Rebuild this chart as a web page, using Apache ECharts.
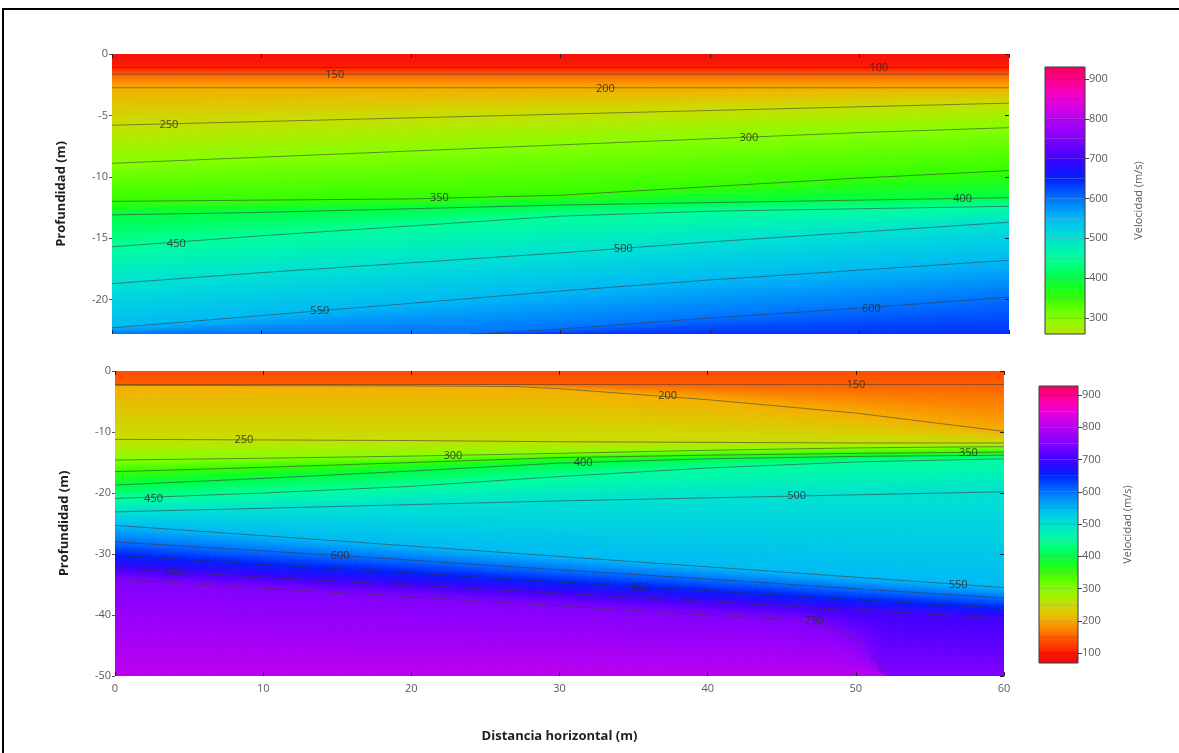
<!DOCTYPE html>
<html>
<head>
<meta charset="utf-8">
<script src="https://cdn.jsdelivr.net/npm/echarts@6/dist/echarts.min.js"></script>
<style>
html,body{margin:0;padding:0;background:#fff;}
#chart{width:1179px;height:753px;}
#frame{position:absolute;left:2px;top:8px;width:1300px;height:900px;border-left:2px solid #000;border-top:2px solid #000;pointer-events:none;}
</style>
</head>
<body>
<div id="chart"></div>
<div id="frame"></div>
<script>
// ---------- axis ticks ----------
const distanceTicks = [0, 10, 20, 30, 40, 50, 60];
const topDepthTicks = [0, -5, -10, -15, -20];
const bottomDepthTicks = [0, -10, -20, -30, -40, -50];
const topColorbarTicks = [300, 400, 500, 600, 700, 800, 900];
const bottomColorbarTicks = [100, 200, 300, 400, 500, 600, 700, 800, 900];
const topColorbarLevels = [260, 300, 350, 400, 450, 500, 550, 600, 650, 700, 750, 800, 850, 900, 930];
const bottomColorbarLevels = [69, 100, 150, 200, 250, 300, 350, 400, 450, 500, 550, 600, 650, 700, 750, 800, 850, 900, 928];

// ---------- colour scale (velocity m/s -> colour) ----------
const colorScale = [
  [60, '#e0001e'], [100, '#ff1a00'], [150, '#ff6000'], [200, '#f6ae00'],
  [250, '#c6e000'], [300, '#86ff00'], [350, '#34ff00'], [400, '#00ff44'],
  [450, '#00ff9c'], [500, '#00e2d2'], [550, '#00baf5'], [600, '#0072ff'],
  [650, '#0020ff'], [700, '#4000ff'], [750, '#8200ff'], [800, '#b600f2'],
  [850, '#ee00d8'], [900, '#ff0088'], [940, '#f00050']
];

// ---------- top section: contour lines [distance m, depth m] ----------
const topLevels = [100, 150, 200, 250, 300, 350, 400, 450, 500, 550, 600];
const top100 = [[0, -1.1], [60, -1.1]];
const top150 = [[0, -1.65], [60, -1.65]];
const top200 = [[0, -2.75], [60, -2.75]];
const top250 = [[0, -5.8], [10, -5.5], [20, -5.2], [30, -4.9], [40, -4.6], [50, -4.3], [60, -4.0]];
const top300 = [[0, -8.9], [10, -8.4], [20, -7.9], [30, -7.4], [40, -6.9], [50, -6.4], [60, -6.0]];
const top350 = [[0, -12.0], [10, -11.9], [20, -11.8], [30, -11.5], [40, -10.8], [50, -10.1], [60, -9.5]];
const top400 = [[0, -13.1], [10, -12.9], [20, -12.6], [30, -12.3], [40, -12.1], [50, -11.9], [60, -11.7]];
const top450 = [[0, -15.7], [10, -14.8], [20, -14.0], [30, -13.2], [40, -12.8], [50, -12.6], [60, -12.4]];
const top500 = [[0, -18.7], [10, -17.8], [20, -17.0], [30, -16.2], [40, -15.3], [50, -14.5], [60, -13.7]];
const top550 = [[0, -22.3], [10, -21.3], [20, -20.3], [30, -19.3], [40, -18.4], [50, -17.6], [60, -16.8]];
const top600 = [[24, -22.8], [30, -22.4], [40, -21.5], [50, -20.7], [60, -19.8]];
const topSurfaceVelocity = 85;
const topBaseVelocity = 640;
const topDepthMin = -22.8;
const topLabels = [
  ['100', 51.3, -1.15], ['150', 14.9, -1.7], ['200', 33, -2.8], ['250', 3.8, -5.75],
  ['300', 42.6, -6.8], ['350', 21.9, -11.75], ['400', 56.9, -11.8], ['450', 4.3, -15.5],
  ['500', 34.2, -15.9], ['550', 13.9, -20.9], ['600', 50.8, -20.75]
];

// ---------- bottom section: contour lines [distance m, depth m] ----------
const bottomLevels = [150, 200, 250, 300, 350, 400, 450, 500, 550, 600, 650, 700, 750];
const bot150 = [[0, -2.2], [60, -2.2]];
const bot200 = [[0, -2.35], [10, -2.4], [20, -2.45], [27, -2.55], [30, -2.9], [40, -4.7], [50, -6.9], [60, -9.9]];
const bot250 = [[0, -11.2], [10, -11.3], [20, -11.4], [30, -11.6], [40, -11.7], [50, -11.8], [60, -11.8]];
const bot300 = [[0, -14.6], [10, -14.3], [20, -13.95], [30, -13.5], [40, -13.0], [50, -12.6], [60, -12.4]];
const bot350 = [[0, -16.5], [10, -15.8], [20, -15.0], [30, -14.2], [40, -13.8], [50, -13.5], [60, -13.3]];
const bot400 = [[0, -18.7], [10, -17.6], [20, -16.4], [30, -15.1], [40, -14.4], [50, -14.0], [60, -13.8]];
const bot450 = [[0, -20.9], [10, -20.0], [20, -18.9], [30, -17.3], [40, -15.9], [50, -14.9], [60, -14.4]];
const bot500 = [[0, -23.1], [10, -22.5], [20, -21.9], [30, -21.3], [40, -20.8], [50, -20.3], [60, -19.8]];
const bot550 = [[0, -25.3], [10, -27.0], [20, -28.7], [30, -30.4], [40, -32.1], [50, -33.8], [60, -35.5]];
const bot600 = [[0, -28.0], [10, -29.5], [20, -31.0], [30, -32.6], [40, -34.1], [50, -35.7], [60, -37.2]];
const bot650 = [[0, -30.2], [10, -31.7], [20, -33.1], [30, -34.6], [40, -36.0], [50, -37.5], [60, -38.9]];
const bot700 = [[0, -32.4], [10, -33.8], [20, -35.1], [30, -36.4], [40, -37.8], [50, -39.2], [60, -40.5]];
const bot750 = [[0, -34.1], [10, -35.6], [20, -37.0], [30, -38.5], [40, -40.0], [46, -40.8], [48.5, -42.3], [50.3, -44.5], [51.3, -47.2], [52, -50]];
const bottomSurfaceVelocity = 135;
const bottomBaseVelocity = 805;
const bottomDepthMin = -50;
const bottomLabels = [
  ['150', 50, -2.2], ['200', 37.3, -4.1], ['250', 8.7, -11.25], ['300', 22.8, -13.9],
  ['350', 57.6, -13.4], ['400', 31.6, -15.0], ['450', 2.6, -20.9], ['500', 46, -20.5],
  ['550', 56.9, -35.0], ['600', 15.2, -30.3], ['650', 35.5, -35.5], ['700', 3.9, -32.9],
  ['750', 47.2, -41.0]
];

const xMax = 60;
const FONT = '"Open Sans", "Noto Sans", sans-serif';

// ---------- helpers ----------
function hexToRgb(h) { return [parseInt(h.substr(1, 2), 16), parseInt(h.substr(3, 2), 16), parseInt(h.substr(5, 2), 16)]; }
function colorOf(v) {
  const s = colorScale;
  if (v <= s[0][0]) return s[0][1];
  for (let i = 0; i < s.length - 1; i++) {
    if (v <= s[i + 1][0]) {
      const t = (v - s[i][0]) / (s[i + 1][0] - s[i][0]);
      const a = hexToRgb(s[i][1]), b = hexToRgb(s[i + 1][1]);
      return 'rgb(' + a.map((c, k) => Math.round(c + (b[k] - c) * t)).join(',') + ')';
    }
  }
  return s[s.length - 1][1];
}
function gradStops(v1, v2) {
  const out = [];
  for (let k = 0; k <= 4; k++) { const t = k / 4; out.push({ offset: t, color: colorOf(v1 + (v2 - v1) * t) }); }
  return out;
}
function depthAt(line, x) {
  if (x <= line[0][0]) return line[0][1];
  for (let i = 0; i < line.length - 1; i++) {
    const a = line[i], b = line[i + 1];
    if (x <= b[0]) return a[1] + (b[1] - a[1]) * (x - a[0]) / (b[0] - a[0]);
  }
  return line[line.length - 1][1];
}
function extendLine(line, dMin) {
  const pts = line.slice();
  if (pts[0][0] > 0) pts.unshift([0, dMin]);
  if (pts[pts.length - 1][0] < xMax) pts.push([xMax, dMin]);
  return pts;
}
function buildBands(levels, lines, vTop, vBase, dMin) {
  const bounds = [[[0, 0], [xMax, 0]]].concat(lines.map(l => extendLine(l, dMin)), [[[0, dMin], [xMax, dMin]]]);
  const vals = [vTop].concat(levels, [vBase]);
  const bands = [];
  for (let i = 0; i < bounds.length - 1; i++) bands.push({ upper: bounds[i], lower: bounds[i + 1], v1: vals[i], v2: vals[i + 1] });
  return bands;
}
function bandRenderer(bands) {
  return function (params, api) {
    const b = bands[params.dataIndex];
    const children = [];
    const step = 0.5;
    for (let x = 0; x < xMax - 1e-9; x += step) {
      const x2 = Math.min(xMax, x + step);
      const p1 = api.coord([x, depthAt(b.upper, x)]);
      const p2 = api.coord([x2, depthAt(b.upper, x2)]);
      const p3 = api.coord([x2, depthAt(b.lower, x2)]);
      const p4 = api.coord([x, depthAt(b.lower, x)]);
      const yu = (p1[1] + p2[1]) / 2, yl = (p3[1] + p4[1]) / 2;
      if (yl - yu < 0.2) continue;
      const g = new echarts.graphic.LinearGradient(0, yu, 0, yl, gradStops(b.v1, b.v2), true);
      children.push({
        type: 'polygon', silent: true,
        shape: { points: [p1, [p2[0] + 0.4, p2[1]], [p3[0] + 0.4, p3[1]], p4] },
        style: { fill: g, stroke: g, lineWidth: 0.7 }
      });
    }
    return { type: 'group', children: children };
  };
}
function colorbarRenderer(levels) {
  return function (params, api) {
    const i = params.dataIndex;
    const v1 = levels[i], v2 = levels[i + 1];
    const a = api.coord([0, v2]), b = api.coord([1, v1]);
    return {
      type: 'rect', silent: true,
      shape: { x: a[0], y: a[1], width: b[0] - a[0], height: b[1] - a[1] },
      style: {
        fill: new echarts.graphic.LinearGradient(0, 0, 0, 1, [{ offset: 0, color: colorOf(v2) }, { offset: 1, color: colorOf(v1) }]),
        stroke: 'rgba(0,0,0,0.16)', lineWidth: 0.6
      }
    };
  };
}
function frameRenderer(vMin, vMax) {
  return function (params, api) {
    const a = api.coord([0, vMax]), b = api.coord([1, vMin]);
    return { type: 'rect', silent: true, shape: { x: a[0], y: a[1], width: b[0] - a[0], height: b[1] - a[1] }, style: { fill: 'none', stroke: '#444', lineWidth: 1 } };
  };
}

const topLines = [top100, top150, top200, top250, top300, top350, top400, top450, top500, top550, top600];
const bottomLines = [bot150, bot200, bot250, bot300, bot350, bot400, bot450, bot500, bot550, bot600, bot650, bot700, bot750];
const topBands = buildBands(topLevels, topLines, topSurfaceVelocity, topBaseVelocity, topDepthMin);
const bottomBands = buildBands(bottomLevels, bottomLines, bottomSurfaceVelocity, bottomBaseVelocity, bottomDepthMin);

const labelStyle = { color: '#5a5a5a', fontSize: 11, fontFamily: FONT };
const tickIn = { show: true, inside: true, length: 4, lineStyle: { color: '#222', width: 1 } };
const tickOut = { show: true, inside: false, length: 3, lineStyle: { color: '#555', width: 1 } };
const noLine = { show: false, onZero: false };

function xAxisPair(gridIndex, showLabels) {
  return [
    {
      type: 'value', gridIndex, min: 0, max: xMax, interval: 10, position: 'bottom', z: 8,
      axisLine: noLine, splitLine: { show: false },
      axisTick: Object.assign({ customValues: distanceTicks }, tickIn),
      axisLabel: showLabels ? Object.assign({ show: true, margin: 7, customValues: distanceTicks }, labelStyle) : { show: false },
      name: showLabels ? 'Distancia horizontal (m)' : '', nameLocation: 'middle', nameGap: 54,
      nameTextStyle: { fontFamily: FONT, fontWeight: 'bold', fontSize: 13, color: '#1e1e1e' }
    },
    {
      type: 'value', gridIndex, min: 0, max: xMax, interval: 10, position: 'top', z: 8,
      axisLine: noLine, splitLine: { show: false },
      axisTick: Object.assign({ customValues: distanceTicks }, tickIn), axisLabel: { show: false }
    }
  ];
}
function yAxisPair(gridIndex, min, ticks) {
  return [
    {
      type: 'value', gridIndex, min, max: 0, position: 'left', z: 8,
      axisLine: noLine, splitLine: { show: false },
      axisTick: Object.assign({ customValues: ticks }, tickOut),
      axisLabel: Object.assign({ show: true, margin: 4, customValues: ticks }, labelStyle),
      name: 'Profundidad (m)', nameLocation: 'middle', nameGap: 44, nameRotate: 90,
      nameTextStyle: { fontFamily: FONT, fontWeight: 'bold', fontSize: 13, color: '#1e1e1e' }
    },
    {
      type: 'value', gridIndex, min, max: 0, position: 'right', z: 8,
      axisLine: noLine, splitLine: { show: false },
      axisTick: Object.assign({ customValues: ticks }, tickIn), axisLabel: { show: false }
    }
  ];
}
function colorbarYAxis(gridIndex, min, max, ticks, gap) {
  return {
    type: 'value', gridIndex, min, max, position: 'right', z: 8,
    axisLine: noLine, splitLine: { show: false },
    axisTick: { show: true, customValues: ticks, length: 4, lineStyle: { color: '#444' } },
    axisLabel: Object.assign({ show: true, margin: 4, customValues: ticks }, labelStyle),
    name: 'Velocidad (m/s)', nameLocation: 'middle', nameGap: gap, nameRotate: 90,
    nameTextStyle: { fontFamily: FONT, fontSize: 11, color: '#5a5a5a' }
  };
}
function hiddenX(gridIndex) {
  return { type: 'value', gridIndex, min: 0, max: 1, show: false };
}

function contourSeries(lines, xi, yi) {
  return lines.map(l => ({
    type: 'line', xAxisIndex: xi, yAxisIndex: yi, data: l, symbol: 'none', silent: true,
    lineStyle: { color: '#333', width: 1, opacity: 0.55 }, z: 3, animation: false
  }));
}
function labelSeries(labels, xi, yi) {
  return {
    type: 'scatter', xAxisIndex: xi, yAxisIndex: yi, silent: true, z: 4, animation: false,
    symbolSize: 1, itemStyle: { opacity: 0 },
    data: labels.map(l => ({ name: l[0], value: [l[1], l[2]] })),
    label: { show: true, position: 'inside', formatter: '{b}', color: '#2c2c2c', fontSize: 11, fontFamily: FONT, opacity: 0.85 }
  };
}

const chart = echarts.init(document.getElementById('chart'), null, { renderer: 'canvas' });
chart.setOption({
  animation: false,
  backgroundColor: '#fff',
  textStyle: { fontFamily: FONT },
  grid: [
    { left: 112, top: 54, width: 897, height: 280 },
    { left: 115, top: 371, width: 889, height: 305 },
    { left: 1045, top: 67, width: 40, height: 267 },
    { left: 1039, top: 386, width: 39, height: 277 }
  ],
  xAxis: [].concat(xAxisPair(0, false), xAxisPair(1, true), [hiddenX(2), hiddenX(3)]),
  yAxis: [].concat(yAxisPair(0, topDepthMin, topDepthTicks), yAxisPair(1, bottomDepthMin, bottomDepthTicks),
    [colorbarYAxis(2, 260, 930, topColorbarTicks, 48), colorbarYAxis(3, 69, 928, bottomColorbarTicks, 44)]),
  series: [].concat(
    [{ type: 'custom', xAxisIndex: 0, yAxisIndex: 0, renderItem: bandRenderer(topBands), data: topBands.map((b, i) => [i, -1]), z: 1, silent: true, clip: true }],
    contourSeries(topLines, 0, 0),
    [labelSeries(topLabels, 0, 0)],
    [{ type: 'custom', xAxisIndex: 2, yAxisIndex: 2, renderItem: bandRenderer(bottomBands), data: bottomBands.map((b, i) => [i, -1]), z: 1, silent: true, clip: true }],
    contourSeries(bottomLines, 2, 2),
    [labelSeries(bottomLabels, 2, 2)],
    [{ type: 'custom', xAxisIndex: 4, yAxisIndex: 4, renderItem: colorbarRenderer(topColorbarLevels), data: topColorbarLevels.slice(1).map(v => [0.5, v]), silent: true },
     { type: 'custom', xAxisIndex: 4, yAxisIndex: 4, renderItem: frameRenderer(260, 930), data: [[0.5, 500]], silent: true, z: 3 },
     { type: 'custom', xAxisIndex: 5, yAxisIndex: 5, renderItem: colorbarRenderer(bottomColorbarLevels), data: bottomColorbarLevels.slice(1).map(v => [0.5, v]), silent: true },
     { type: 'custom', xAxisIndex: 5, yAxisIndex: 5, renderItem: frameRenderer(69, 928), data: [[0.5, 500]], silent: true, z: 3 }]
  )
});
</script>
</body>
</html>
